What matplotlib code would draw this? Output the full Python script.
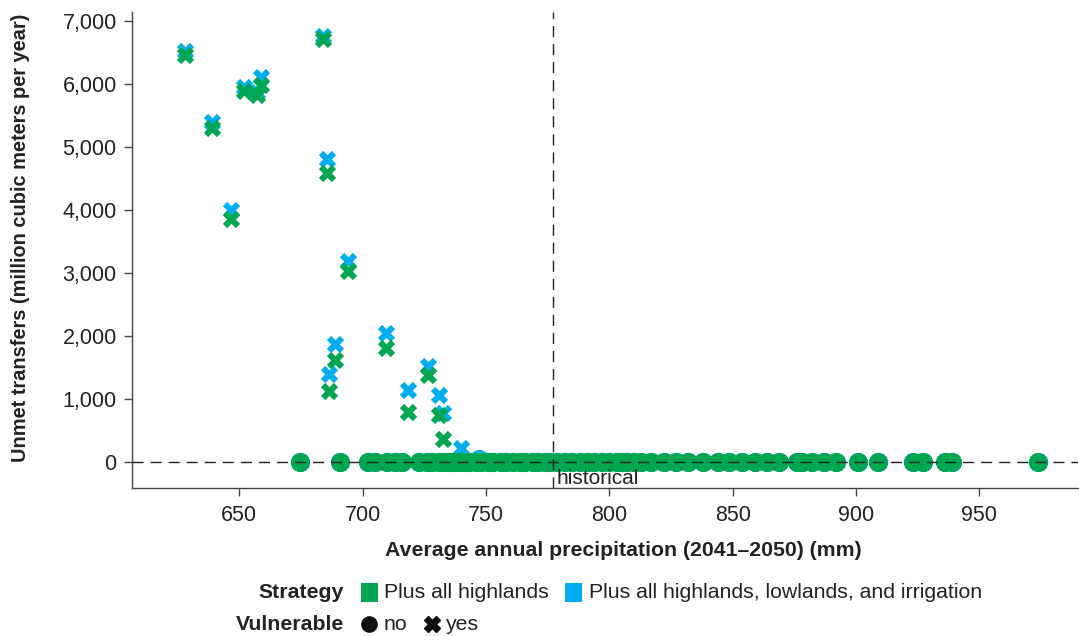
import matplotlib
matplotlib.use("Agg")
import matplotlib.pyplot as plt
from matplotlib.lines import Line2D
from matplotlib.patches import Rectangle
from matplotlib.ticker import FuncFormatter

plt.rcParams['font.family'] = ['Liberation Sans', 'DejaVu Sans']

GREEN = '#00a651'
BLUE = '#00aeef'

# Vulnerable (yes) points: precipitation and unmet transfers
yes_x = [628, 639, 646.5, 652, 657, 659, 684, 685.5, 686.5, 689, 694, 709.5, 718.5, 726.5, 731, 732.5]
yes_blue = [6530, 5400, 4000, 5950, 5870, 6110, 6760, 4810, 1400, 1870, 3190, 2050, 1150, 1520, 1070, 770]
yes_green = [6460, 5300, 3850, 5890, 5830, 5990, 6720, 4590, 1120, 1620, 3030, 1810, 800, 1380, 750, 360]
blue_extra_yes_x = [740]
blue_extra_yes_y = [230]

# Not vulnerable points
no_x = [674.7, 690.9, 702, 705, 710, 713, 716, 723, 726, 728, 731, 733, 735, 737, 739, 741,
        743, 746, 748, 751, 753, 756, 758, 761, 764, 766, 769, 771, 774, 776, 779, 782, 785,
        788, 791, 794, 797, 800, 803, 805, 807, 810, 813, 817, 822, 827, 832, 838, 844, 848.5,
        854, 859, 864, 869, 876, 878, 882, 887, 892, 901, 909, 923, 927, 936, 939, 974]
no_green = [0] * len(no_x)
no_blue_x = no_x + [747]
no_blue_y = [0] * len(no_x) + [50]

historical = 777

fig = plt.figure(figsize=(10.79, 6.36), dpi=100)
ax = fig.add_axes([0.1223, 0.2327, 0.8767, 0.7483])

ms_x = 155
ms_o = 190
ax.scatter(no_blue_x, no_blue_y, s=ms_o, marker='o', color=BLUE, linewidths=0, zorder=2)
ax.scatter(yes_x + blue_extra_yes_x, yes_blue + blue_extra_yes_y, s=ms_x, marker='X', color=BLUE, linewidths=0, zorder=2)
ax.scatter(no_x, no_green, s=ms_o, marker='o', color=GREEN, linewidths=0, zorder=3)
ax.scatter(yes_x, yes_green, s=ms_x, marker='X', color=GREEN, linewidths=0, zorder=3)

ax.axhline(0, color='#222222', lw=1.0, dashes=(8, 5), zorder=4)
ax.axvline(historical, color='#222222', lw=1.0, dashes=(8, 5), zorder=4)
ax.text(historical + 1.8, -110, 'historical', fontsize=15, color='#222222', va='top', ha='left', zorder=5)

ax.set_xlim(606.5, 990)
ax.set_ylim(-413, 7143)
ax.set_xticks([650, 700, 750, 800, 850, 900, 950])
ax.set_yticks(range(0, 7001, 1000))
ax.yaxis.set_major_formatter(FuncFormatter(lambda v, p: f'{int(v):,}'))
for s in ['top', 'right']:
    ax.spines[s].set_visible(False)
for s in ['left', 'bottom']:
    ax.spines[s].set_color('#444444')
    ax.spines[s].set_linewidth(1.0)
ax.tick_params(axis='both', labelsize=15.5, colors='#444444', labelcolor='#222222', length=6, width=1)
ax.tick_params(axis='x', pad=6)
ax.tick_params(axis='y', pad=5)

ax.set_xlabel('Average annual precipitation (2041–2050) (mm)', fontsize=15.3, fontweight='bold', color='#222222')
ax.set_ylabel('Unmet transfers (million cubic meters per year)', fontsize=14.4, fontweight='bold', color='#222222')
ax.xaxis.set_label_coords(0.519, -0.111)
ax.yaxis.set_label_coords(-0.108, 0.525)

# Legend drawn manually
W, H = 1079, 636
def fx(px): return px / W
def fy(py): return 1 - py / H

def square(cx, cy, color):
    w, h = 17, 19
    fig.add_artist(Rectangle((fx(cx - w / 2), fy(cy + h / 2)), w / W, h / H, color=color,
                             transform=fig.transFigure, linewidth=0))

LF = 15.3
fig.text(fx(344), fy(592), 'Strategy', fontsize=LF, fontweight='bold', ha='right', va='center', color='#222222')
square(369, 592, GREEN)
fig.text(fx(384), fy(592), 'Plus all highlands', fontsize=LF, ha='left', va='center', color='#222222')
square(573, 592, BLUE)
fig.text(fx(589), fy(592), 'Plus all highlands, lowlands, and irrigation', fontsize=LF, ha='left', va='center', color='#222222')

fig.text(fx(344), fy(624), 'Vulnerable', fontsize=LF, fontweight='bold', ha='right', va='center', color='#222222')
fig.add_artist(Line2D([fx(369)], [fy(624)], marker='o', markersize=11, color='#111111', linestyle='none', transform=fig.transFigure))
fig.text(fx(384), fy(624), 'no', fontsize=LF, ha='left', va='center', color='#222222')
fig.add_artist(Line2D([fx(432)], [fy(624)], marker='X', markersize=11, color='#111111', linestyle='none', transform=fig.transFigure))
fig.text(fx(446), fy(624), 'yes', fontsize=LF, ha='left', va='center', color='#222222')

fig.savefig('out.png', dpi=100)
